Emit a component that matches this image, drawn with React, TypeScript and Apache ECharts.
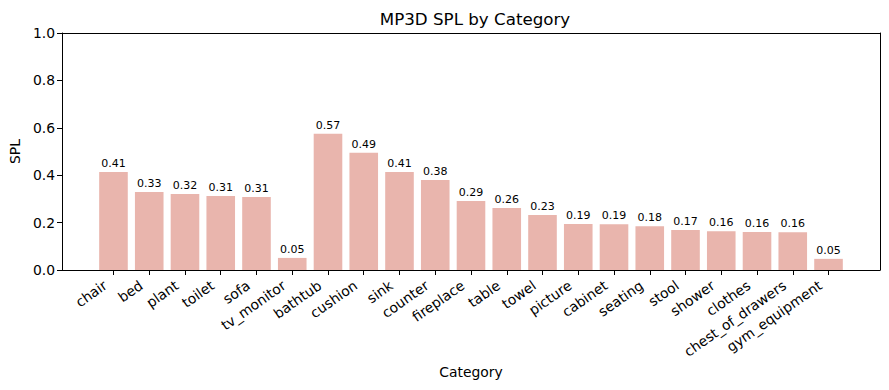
import React, { useEffect, useRef } from "react";
import * as echarts from "echarts";

const categories = [
  "chair", "bed", "plant", "toilet", "sofa", "tv_monitor", "bathtub", "cushion",
  "sink", "counter", "fireplace", "table", "towel", "picture", "cabinet",
  "seating", "stool", "shower", "clothes", "chest_of_drawers", "gym_equipment",
];
const splValues = [
  0.413, 0.329, 0.321, 0.312, 0.308, 0.051, 0.575, 0.495, 0.413, 0.38, 0.291,
  0.262, 0.232, 0.194, 0.193, 0.185, 0.169, 0.164, 0.16, 0.159, 0.047,
];
const yTicks = [0, 0.2, 0.4, 0.6, 0.8, 1.0];

const FONT = "DejaVu Sans";

export default function App() {
  const ref = useRef<HTMLDivElement>(null);
  useEffect(() => {
    if (!ref.current) return;
    const chart = echarts.init(ref.current, null, { renderer: "svg" });
    const n = categories.length;
    const pad = 0.4 + 0.05 * (n - 1 + 0.8);
    const lineStyle = { color: "#000", width: 1 };
    chart.setOption({
      animation: false,
      backgroundColor: "#fff",
      textStyle: { fontFamily: FONT },
      title: {
        text: "MP3D SPL by Category",
        left: 470,
        textAlign: "center",
        top: 5,
        textStyle: { fontFamily: FONT, fontSize: 16.7, fontWeight: "normal", color: "#000" },
      },
      grid: {
        left: 61,
        right: 9,
        top: 33,
        bottom: 120,
      },
      xAxis: [
        {
          type: "value",
          min: -pad,
          max: n - 1 + pad,
          name: "Category",
          nameLocation: "middle",
          nameGap: 95,
          nameTextStyle: { fontFamily: FONT, fontSize: 13.9, color: "#000" },
          axisLine: { show: true, onZero: false, lineStyle },
          axisTick: {
            show: true,
            customValues: categories.map((_, i) => i),
            length: 5,
            lineStyle: { color: "#000" },
          },
          axisLabel: {
            customValues: categories.map((_, i) => i),
            formatter: (v: number) => categories[Math.round(v)] ?? "",
            rotate: 35,
            fontFamily: FONT,
            fontSize: 13.9,
            color: "#000",
            margin: 8,
            padding: [0, 10, 0, 0],
          },
          splitLine: { show: false },
        },
        {
          type: "value",
          position: "top",
          min: -pad,
          max: n - 1 + pad,
          axisLine: { show: true, onZero: false, lineStyle },
          axisTick: { show: false },
          axisLabel: { show: false },
          splitLine: { show: false },
        },
      ],
      yAxis: [
        {
          type: "value",
          min: 0,
          max: 1,
          interval: 0.2,
          name: "SPL",
          nameLocation: "middle",
          nameGap: 40,
          nameTextStyle: { fontFamily: FONT, fontSize: 13.9, color: "#000" },
          axisLine: { show: true, onZero: false, lineStyle },
          axisTick: { show: true, length: 5, lineStyle: { color: "#000" } },
          axisLabel: {
            formatter: (v: number) => v.toFixed(1),
            fontFamily: FONT,
            fontSize: 13.9,
            color: "#000",
            margin: 7,
            customValues: yTicks,
          },
          splitLine: { show: false },
        },
        {
          type: "value",
          position: "right",
          min: 0,
          max: 1,
          interval: 0.2,
          axisLine: { show: true, onZero: false, lineStyle },
          axisTick: { show: false },
          axisLabel: { show: false },
          splitLine: { show: false },
        },
      ],
      series: [
        {
          type: "bar",
          xAxisIndex: 0,
          yAxisIndex: 0,
          data: splValues.map((v, i) => [i, v]),
          barWidth: 28.6,
          itemStyle: { color: "#E9B5AD" },
          label: {
            show: true,
            position: "top",
            distance: 3,
            formatter: (p: any) => p.value[1].toFixed(2),
            fontFamily: FONT,
            fontSize: 11,
            color: "#000",
          },
        },
      ],
    });
    return () => chart.dispose();
  }, []);
  return (
    <div
      ref={ref}
      style={{ position: "fixed", left: 0, top: 0, width: 889, height: 390 }}
    />
  );
}
